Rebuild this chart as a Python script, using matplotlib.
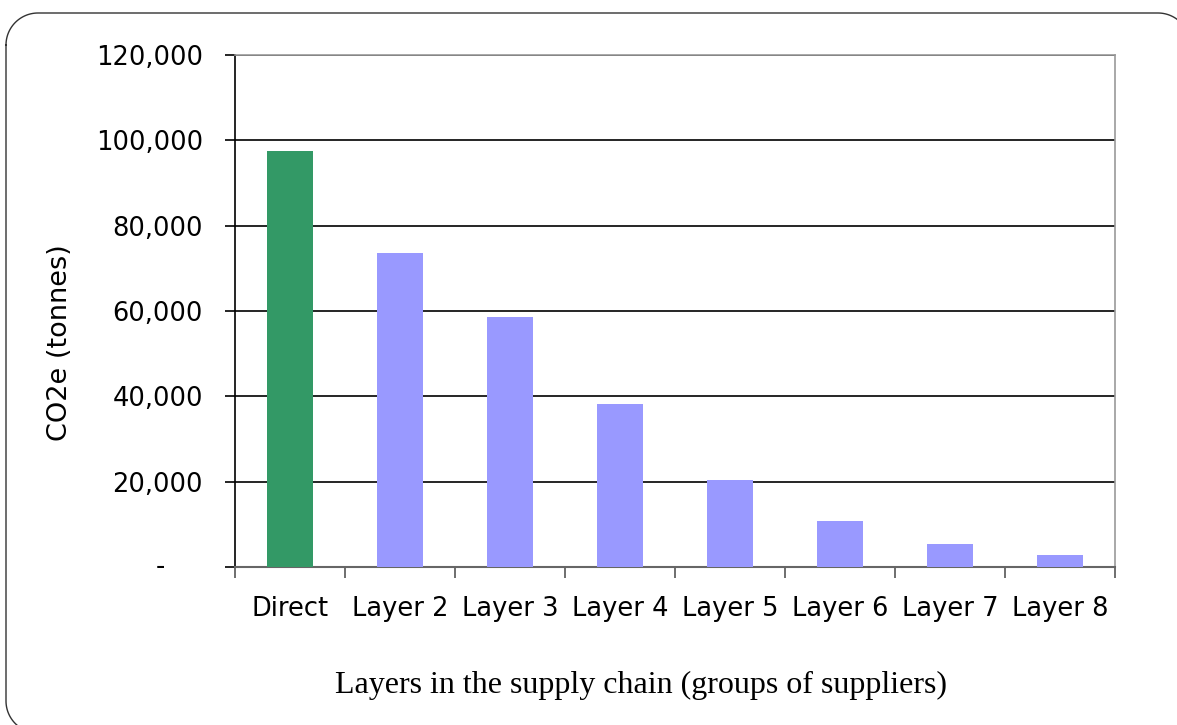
import numpy as np
import matplotlib
matplotlib.use("Agg")
import matplotlib.pyplot as plt
from matplotlib.ticker import FuncFormatter, FixedLocator

categories = ["Direct", "Layer 2", "Layer 3", "Layer 4", "Layer 5", "Layer 6", "Layer 7", "Layer 8"]
emissions = [97600, 73500, 58500, 38100, 20500, 10700, 5500, 2900]
bar_colors = ["#339966"] + ["#9999FF"] * 7
y_ticks = [0, 20000, 40000, 60000, 80000, 100000, 120000]

W, H = 1177, 725
fig = plt.figure(figsize=(W / 100, H / 100), dpi=100)

# rounded outer frame, traced as a polyline in pixel space
frame_ax = fig.add_axes([0, 0, 1, 1])
frame_ax.set_xlim(0, W)
frame_ax.set_ylim(H, 0)
frame_ax.axis("off")


def rounded_outline(x0, y0, x1, y1, r, n=30):
    pts = []
    corners = [
        (x0 + r, y0 + r, np.pi, 1.5 * np.pi),
        (x1 - r, y0 + r, 1.5 * np.pi, 2.0 * np.pi),
        (x1 - r, y1 - r, 0.0, 0.5 * np.pi),
        (x0 + r, y1 - r, 0.5 * np.pi, np.pi),
    ]
    for cx, cy, a0, a1 in corners:
        t = np.linspace(a0, a1, n)
        pts.append(np.column_stack([cx + r * np.cos(t), cy + r * np.sin(t)]))
    pts = np.vstack(pts)
    return np.vstack([pts, pts[:1]])


outline = rounded_outline(6, 13, 1190, 733, 32)
frame_ax.plot(outline[:, 0], outline[:, 1], color="#333333", linewidth=1.0, clip_on=False)

ax = fig.add_axes([235 / W, 1 - 567 / H, 880 / W, 512 / H])

x = list(range(len(categories)))
ax.bar(x, emissions, width=0.41, color=bar_colors, zorder=3)

ax.set_xlim(-0.5, len(categories) - 0.5)
ax.set_ylim(0, 120000)

ax.set_yticks(y_ticks)
ax.yaxis.set_major_formatter(FuncFormatter(lambda v, p: "" if v == 0 else f"{int(v):,}"))
ax.annotate("-", xy=(0, 0), xycoords=("axes fraction", "data"), xytext=(-75, 0),
            textcoords="offset pixels", ha="center", va="center", fontsize=18.5)
ax.grid(axis="y", color="black", linewidth=1.2, zorder=1)
ax.set_axisbelow(True)

ax.set_xticks(x)
ax.set_xticklabels(categories)
ax.xaxis.set_minor_locator(FixedLocator([i - 0.5 for i in range(len(categories) + 1)]))
ax.tick_params(axis="x", which="major", length=0, pad=21, labelsize=18.5)
ax.tick_params(axis="x", which="minor", length=8, width=1.2, color="#555555", direction="out")
ax.tick_params(axis="y", which="major", length=7, width=1.2, pad=16, labelsize=18.5, direction="out")

for side in ("top", "right"):
    ax.spines[side].set_color("#999999")
    ax.spines[side].set_linewidth(1.2)
ax.spines["bottom"].set_color("#666666")
ax.spines["bottom"].set_linewidth(1.5)
ax.spines["left"].set_color("black")
ax.spines["left"].set_linewidth(1.2)

fig.text(60 / W, 1 - 343 / H, "CO2e (tonnes)", rotation=90, ha="center", va="center",
         fontsize=19.5, family="DejaVu Sans")
fig.text(641 / W, 1 - 685 / H, "Layers in the supply chain (groups of suppliers)",
         ha="center", va="center", fontsize=23, family="Liberation Serif")

fig.savefig("out.png", dpi=100)
